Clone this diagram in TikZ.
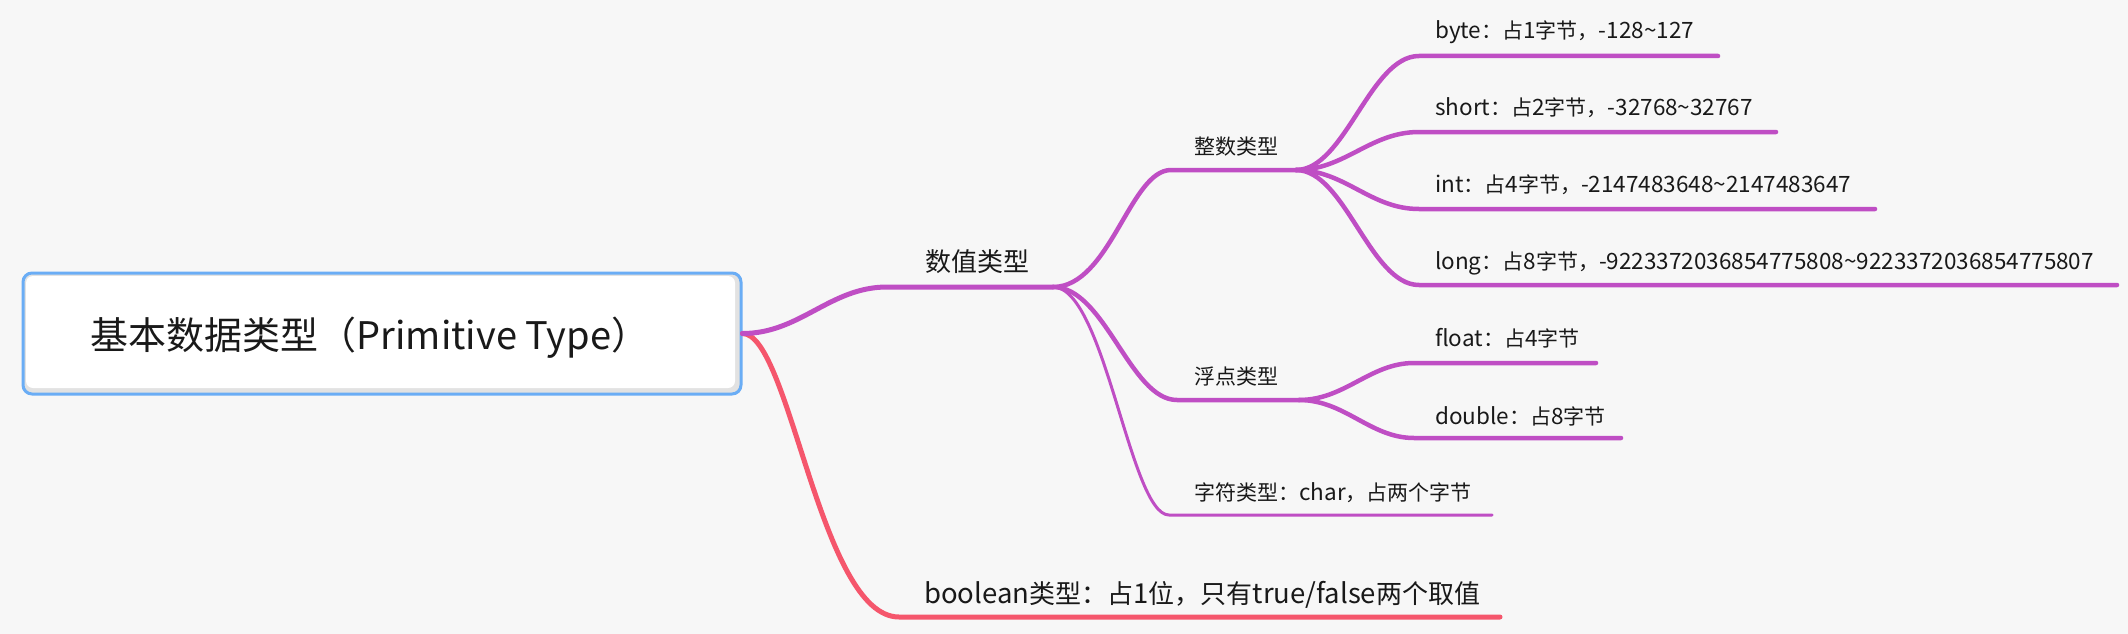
\documentclass[tikz,border=0pt]{standalone}
\usepackage{fontspec}
\setmainfont{Noto Sans CJK SC}
\newcommand\latS[1]{{\fontsize{22.5}{25}\selectfont #1}}
\newcommand\latM[1]{{\fontsize{27.5}{30}\selectfont #1}}
\definecolor{bgc}{RGB}{247,247,247}
\definecolor{mag}{RGB}{191,78,196}
\definecolor{redc}{RGB}{245,86,108}
\definecolor{bluec}{RGB}{106,173,245}
\definecolor{txt}{RGB}{25,25,25}
\definecolor{shade}{RGB}{226,226,226}
\begin{document}
\begin{tikzpicture}[x=1pt,y=-1pt,
  lbl/.style={anchor=west, inner sep=0pt, text=txt},
  big/.style={font=\fontsize{38}{44}\selectfont},
  mid/.style={font=\fontsize{26}{30}\selectfont},
  sml/.style={font=\fontsize{21}{25}\selectfont},
  br1/.style={draw=mag, line width=5pt, line cap=round},
  br2/.style={draw=mag, line width=4.5pt, line cap=round},
  br3/.style={draw=mag, line width=3pt, line cap=round},
  brr/.style={draw=redc, line width=5pt, line cap=round}]
\fill[bgc] (0,0) rectangle (2128,634);
\useasboundingbox (0,0) rectangle (2128,634);
% root
\node[draw=bluec, line width=3pt, fill=shade, rounded corners=9pt, minimum width=718pt, minimum height=121pt, inner sep=0pt] (root) at (382,333.5) {};
\fill[white, rounded corners=7pt] (26,276) rectangle (735,388);
\node[lbl, big, anchor=center] (rootlbl) at (370,338) {基本数据类型（Primitive Type）};
% coordinates
\coordinate (numS) at (887,287); \coordinate (numE) at (1053,287);
\coordinate (intS) at (1171,170); \coordinate (intE) at (1296,170);
\coordinate (fltS) at (1177,400); \coordinate (fltE) at (1299,400);
\coordinate (chS) at (1169,515); \coordinate (chE) at (1492,515);
\coordinate (boolS) at (899,617); \coordinate (boolE) at (1500,617);
\coordinate (byS) at (1419,56); \coordinate (byE) at (1718,56);
\coordinate (shS) at (1419,132); \coordinate (shE) at (1776,132);
\coordinate (inS) at (1419,209); \coordinate (inE) at (1875,209);
\coordinate (loS) at (1419,285); \coordinate (loE) at (2117,285);
\coordinate (fS) at (1414,363); \coordinate (fE) at (1596,363);
\coordinate (dS) at (1414,438); \coordinate (dE) at (1621,438);
% connectors
\draw[brr] (root.east) .. controls (790,333.5) and (820,617) .. (boolS) -- (boolE);
\draw[br1] (root.east) .. controls (800,333.5) and (830,287) .. (numS) -- (numE);
\draw[br2] (numE) .. controls (1110,287) and (1130,170) .. (intS) -- (intE);
\draw[br2] (numE) .. controls (1105,287) and (1130,400) .. (fltS) -- (fltE);
\draw[br3] (numE) .. controls (1105,287) and (1130,515) .. (chS) -- (chE);
\draw[br2] (intE) .. controls (1345,170) and (1370,56) .. (byS) -- (byE);
\draw[br2] (intE) .. controls (1345,170) and (1370,132) .. (shS) -- (shE);
\draw[br2] (intE) .. controls (1345,170) and (1370,209) .. (inS) -- (inE);
\draw[br2] (intE) .. controls (1345,170) and (1370,285) .. (loS) -- (loE);
\draw[br2] (fltE) .. controls (1345,400) and (1370,363) .. (fS) -- (fE);
\draw[br2] (fltE) .. controls (1345,400) and (1370,438) .. (dS) -- (dE);
% labels
\node[lbl, mid] (num) at (925,262) {数值类型};
\node[lbl, mid] (bool) at (924,595) {\latM{boolean}类型：占\latM{1}位，只有\latM{true/false}两个取值};
\node[lbl, sml] (intg) at (1194,147) {整数类型};
\node[lbl, sml] (flt) at (1194,377) {浮点类型};
\node[lbl, sml] (chr) at (1194,493) {字符类型：\latS{char}，占两个字节};
\node[lbl, sml] (byte) at (1435,32) {\latS{byte}：占\latS{1}字节，\latS{-128\textasciitilde127}};
\node[lbl, sml] (short) at (1435,108) {\latS{short}：占\latS{2}字节，\latS{-32768\textasciitilde32767}};
\node[lbl, sml] (int) at (1435,185) {\latS{int}：占\latS{4}字节，\latS{-2147483648\textasciitilde2147483647}};
\node[lbl, sml] (long) at (1435,263) {\latS{long}：占\latS{8}字节，\latS{-9223372036854775808\textasciitilde9223372036854775807}};
\node[lbl, sml] (float) at (1435,338) {\latS{float}：占\latS{4}字节};
\node[lbl, sml] (double) at (1435,416) {\latS{double}：占\latS{8}字节};
\end{tikzpicture}
\end{document}
